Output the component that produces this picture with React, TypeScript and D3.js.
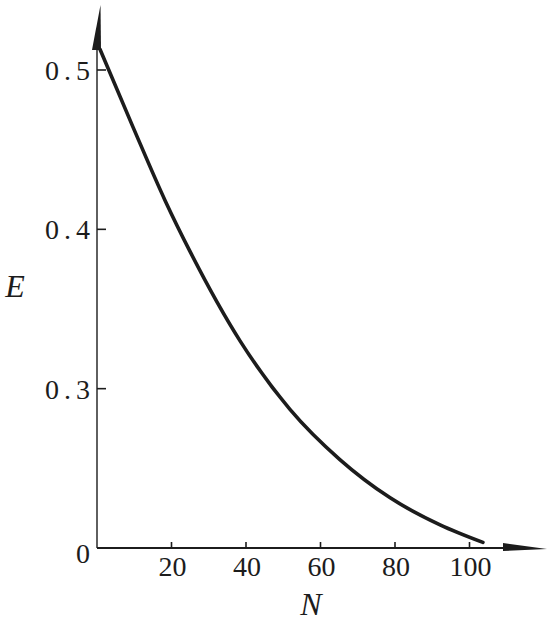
import React from "react";
import * as d3 from "d3";

// Curve E(N) (vertical axis is broken: origin label "0" sits at E = 0.2)
const nValues = [0.8, 9.7, 18.3, 25.0, 38.4, 51.8, 65.2, 78.7, 92.1, 103.6];
const eValues = [0.513, 0.464, 0.418, 0.386, 0.33, 0.287, 0.2555, 0.2315, 0.2145, 0.2035];

const xTicks = [20, 40, 60, 80, 100];
const xTickLabels = ["20", "40", "60", "80", "100"];
const yTicks = [0.3, 0.4, 0.5];
const yTickLabels = ["0.3", "0.4", "0.5"];
const yOriginValue = 0.2;
const yOriginLabel = "0";
const xTitle = "N";
const yTitle = "E";

const W = 549;
const H = 623;
const FONT = "Liberation Serif, DejaVu Serif, serif";

export default function App() {
  const x = d3.scaleLinear().domain([0, 100]).range([97, 469.5]);
  const y = d3.scaleLinear().domain([0.2, 0.5]).range([548, 70]);

  const pts: [number, number][] = nValues.map((n, i) => [n, eValues[i]]);
  const line = d3
    .line<[number, number]>()
    .x((d) => x(d[0]))
    .y((d) => y(d[1]))
    .curve(d3.curveMonotoneX);

  const x0 = x(0);
  const y0 = y(yOriginValue);
  const ink = "#1c1c1c";

  return (
    <svg
      width={W}
      height={H}
      viewBox={`0 0 ${W} ${H}`}
      fontFamily={FONT}
      style={{ position: "absolute", left: 0, top: 0, background: "#fff" }}
    >
      <rect x={0} y={0} width={W} height={H} fill="#fff" />
      {/* y axis */}
      <line x1={x0} y1={y0} x2={x0} y2={48} stroke={ink} strokeWidth={1.4} />
      <path d={`M${x0 + 3.5},5 L${x0 - 5},50 L${x0 + 4},50 Z`} fill={ink} />
      {/* x axis */}
      <line x1={x0} y1={y0} x2={505} y2={y0} stroke={ink} strokeWidth={1.8} />
      <path d={`M503,${y0 - 5} L547,${y0 + 1} L503,${y0 + 3} Z`} fill={ink} />

      {/* y ticks */}
      {yTicks.map((t, i) => (
        <g key={"yt" + i}>
          <line x1={x0} x2={x0 + 9} y1={y(t)} y2={y(t)} stroke={ink} strokeWidth={1.6} />
          <text x={45} y={y(t) + 10} fontFamily={FONT} fontSize={28} letterSpacing={5} fill={ink}>
            {yTickLabels[i]}
          </text>
        </g>
      ))}
      <text x={83} y={y0 + 15} textAnchor="middle" fontFamily={FONT} fontSize={28} fill={ink}>
        {yOriginLabel}
      </text>

      {/* x ticks */}
      {xTicks.map((t, i) => (
        <g key={"xt" + i}>
          <line x1={x(t)} x2={x(t)} y1={y0} y2={y0 - 6} stroke={ink} strokeWidth={1.6} />
          <text
            x={x(t) + 1}
            y={y0 + 28}
            textAnchor="middle"
            fontFamily={FONT}
            fontSize={28}
            fill={ink}
          >
            {xTickLabels[i]}
          </text>
        </g>
      ))}

      {/* axis titles */}
      <text x={311} y={615} textAnchor="middle" fontFamily={FONT} fontStyle="italic" fontSize={32} fill={ink}>
        {xTitle}
      </text>
      <text x={15} y={297} textAnchor="middle" fontFamily={FONT} fontStyle="italic" fontSize={32} fill={ink}>
        {yTitle}
      </text>

      {/* curve */}
      <path d={line(pts) || ""} fill="none" stroke={ink} strokeWidth={3.6} strokeLinecap="round" />
    </svg>
  );
}
